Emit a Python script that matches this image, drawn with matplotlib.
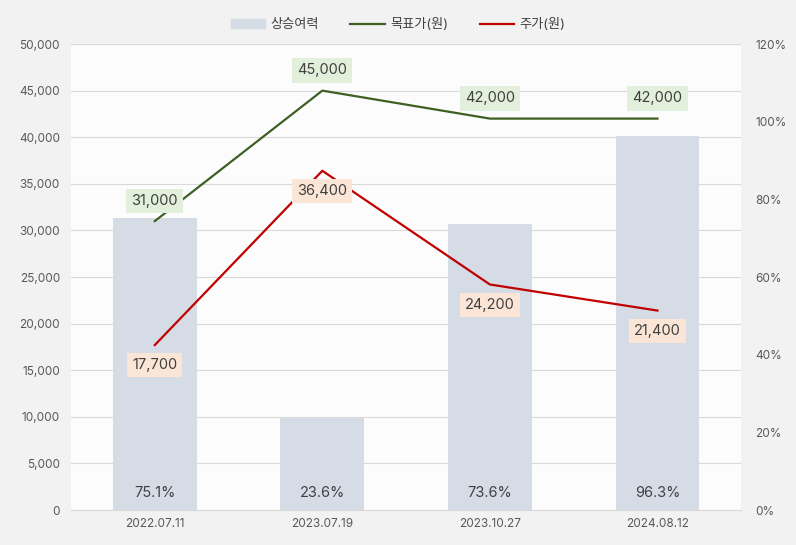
import matplotlib.pyplot as plt
import numpy as np
from matplotlib.patches import Patch
from matplotlib.lines import Line2D

dates = ["2022.07.11", "2023.07.19", "2023.10.27", "2024.08.12"]
upside = [75.1, 23.6, 73.6, 96.3]          # 상승여력 (%)
target = [31000, 45000, 42000, 42000]      # 목표가(원)
price = [17700, 36400, 24200, 21400]       # 주가(원)

plt.rcParams["font.family"] = ["Inter", "Noto Sans CJK KR", "DejaVu Sans"]

clr_bar = "#d6dce5"
clr_target = "#3f5f23"
clr_price = "#c00000"
clr_text = "#404040"
clr_tick = "#595959"

fig = plt.figure(figsize=(7.96, 5.45), dpi=100, facecolor="#f2f2f2")
ax = fig.add_axes([0.0892, 0.0642, 0.842, 0.855])
ax.set_facecolor("#fcfcfc")
ax2 = ax.twinx()

x = np.arange(len(dates))
ax2.bar(x, upside, width=0.5, color=clr_bar, zorder=1)
for xi, v in zip(x, upside):
    ax2.text(xi, 4.5, f"{v:.1f}%", ha="center", va="center",
             fontsize=10.5, color=clr_text)

ax2.set_ylim(0, 120)
ax2.set_yticks(np.arange(0, 121, 20))
ax2.set_yticklabels([f"{t}%" for t in range(0, 121, 20)])

# lines drawn on a third axes so they sit above the bars
ax3 = ax.twinx()
ax3.set_ylim(0, 50000)
ax3.axis("off")
ax3.plot(x, target, color=clr_target, lw=1.6, zorder=3)
ax3.plot(x, price, color=clr_price, lw=1.6, zorder=3)
for xi, v in zip(x, target):
    ax3.annotate(f"{v:,}", (xi, v), xytext=(0, 14.5), textcoords="offset points",
                 ha="center", va="center", fontsize=10.5, color=clr_text,
                 bbox=dict(boxstyle="square,pad=0.35", fc="#e2efda", ec="none"))
for xi, v in zip(x, price):
    ax3.annotate(f"{v:,}", (xi, v), xytext=(0, -14.5), textcoords="offset points",
                 ha="center", va="center", fontsize=10.5, color=clr_text,
                 bbox=dict(boxstyle="square,pad=0.35", fc="#fbe5d6", ec="none"))

ax.set_ylim(0, 50000)
ax.set_yticks(np.arange(0, 50001, 5000))
ax.set_yticklabels([f"{t:,}" for t in range(0, 50001, 5000)])
ax.set_xlim(-0.5, len(dates) - 0.5)
ax3.set_xlim(-0.5, len(dates) - 0.5)
ax2.set_xlim(-0.5, len(dates) - 0.5)
ax.set_xticks(x)
ax.set_xticklabels(dates)
ax.grid(axis="y", color="#d9d9d9", lw=0.8)
ax.set_axisbelow(True)

for a in (ax, ax2, ax3):
    for s in a.spines.values():
        s.set_visible(False)
ax.spines["bottom"].set_visible(True)
ax.spines["bottom"].set_color("#d9d9d9")
ax.tick_params(axis="both", length=0, labelsize=8.5, colors=clr_tick, pad=8)
ax.tick_params(axis="x", pad=6)
ax2.tick_params(axis="y", length=0, labelsize=8.5, colors=clr_tick, pad=10)

handles = [Patch(color=clr_bar), Line2D([], [], color=clr_target, lw=1.6),
           Line2D([], [], color=clr_price, lw=1.6)]
fig.legend(handles, ["상승여력", "목표가(원)", "주가(원)"], loc="center",
           bbox_to_anchor=(0.5, 0.955), ncol=3, frameon=False, fontsize=9.5,
           handlelength=2.6, handleheight=0.6, handletextpad=0.4,
           columnspacing=2.4, labelcolor=clr_text)

fig.savefig("out.png", dpi=100, facecolor=fig.get_facecolor())
